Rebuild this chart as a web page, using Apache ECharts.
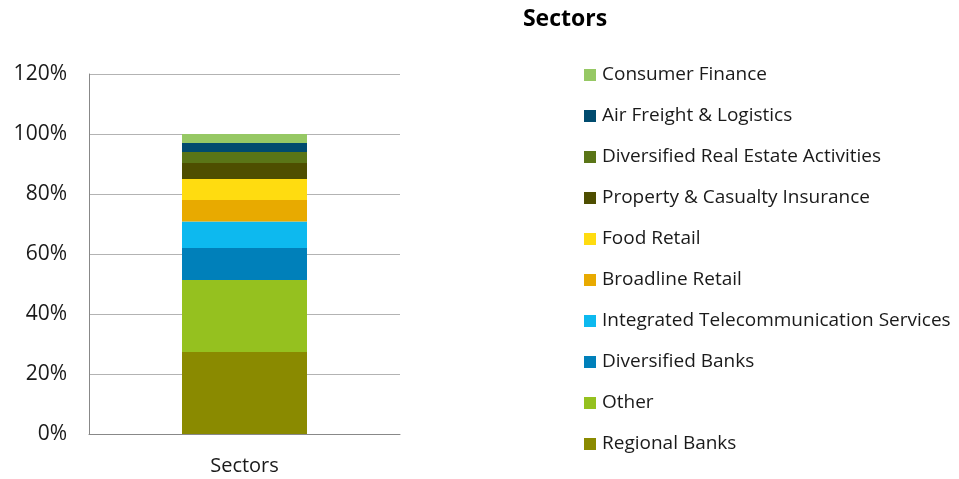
<!DOCTYPE html>
<html>
<head>
<meta charset="utf-8">
<script src="https://cdn.jsdelivr.net/npm/echarts@6/dist/echarts.min.js"></script>
<style>
html,body{margin:0;padding:0;background:#fff;}
#chart{width:959px;height:479px;}
</style>
</head>
<body>
<div id="chart"></div>
<script>
// 数据
var categories = ['Sectors'];
var seriesNames = ['Regional Banks', 'Other', 'Diversified Banks', 'Integrated Telecommunication Services',
	'Broadline Retail', 'Food Retail', 'Property & Casualty Insurance', 'Diversified Real Estate Activities',
	'Air Freight & Logistics', 'Consumer Finance'];
var seriesValues = [27.3, 24.0, 10.7, 8.8, 7.2, 7.0, 5.3, 3.7, 3.0, 3.0];
var seriesColors = ['#8A8A00', '#95C11F', '#0080BA', '#0DB9EF', '#E8AA00', '#FFDC10', '#4E4E00', '#5A7517', '#004B6E', '#96C864'];
var yTicks = [0, 20, 40, 60, 80, 100, 120];

var FONT = '"Open Sans", sans-serif';

var chart = echarts.init(document.getElementById('chart'));

var series = [];
for (var i = 0; i < seriesNames.length; i++) {
	series.push({
		name: seriesNames[i],
		type: 'bar',
		stack: 'total',
		barWidth: 125,
		data: [seriesValues[i]],
		itemStyle: {color: seriesColors[i]}
	});
}

var opt = {
	animation: false,
	textStyle: {fontFamily: FONT},
	title: {
		text: 'Sectors',
		left: 560,
		textAlign: 'center',
		top: 3,
		textStyle: {fontFamily: FONT, fontSize: 23, fontWeight: 'bold', color: '#000'}
	},
	legend: {
		orient: 'vertical',
		left: 579,
		top: 60,
		itemWidth: 12,
		itemHeight: 12,
		itemGap: 21,
		icon: 'rect',
		data: seriesNames.slice().reverse(),
		textStyle: {fontFamily: FONT, fontSize: 19, color: '#1a1a1a', lineHeight: 20, padding: [0, 0, 0, 1]}
	},
	grid: {left: 89, top: 74, width: 311, height: 360},
	xAxis: {
		type: 'category',
		data: categories,
		axisLine: {lineStyle: {color: '#888', width: 1}},
		axisTick: {show: false},
		axisLabel: {fontFamily: FONT, fontSize: 20, color: '#1a1a1a', margin: 22}
	},
	yAxis: {
		type: 'value',
		min: yTicks[0],
		max: yTicks[yTicks.length - 1],
		interval: 20,
		axisLine: {show: true, lineStyle: {color: '#888'}},
		axisTick: {show: false},
		splitLine: {lineStyle: {color: '#B3B3B3', width: 1}},
		axisLabel: {fontFamily: FONT, fontSize: 21, color: '#1a1a1a', margin: 22, formatter: '{value}%'}
	},
	series: series
};
chart.setOption(opt, true);
</script>
</body>
</html>
